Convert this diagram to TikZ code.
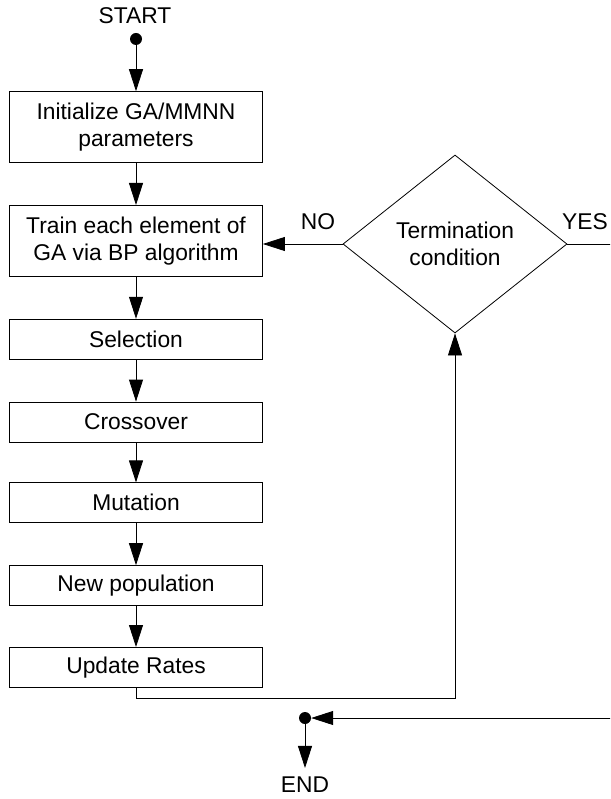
\documentclass[tikz,border=0pt]{standalone}
\usepackage{fontspec}
\setmainfont{Liberation Sans}
\usetikzlibrary{positioning, shapes.geometric, arrows.meta}
\tikzset{
  block/.style={rectangle, draw, line width=0.8pt, minimum width=253pt, minimum height=40pt, align=center, inner sep=3pt},
  decision/.style={diamond, draw, line width=0.8pt, minimum width=224pt, minimum height=178pt, aspect=1.26, inner sep=0pt, align=center},
  terminal/.style={circle, fill, inner sep=0pt, minimum size=12pt},
  arrow/.style={-{Triangle[length=22pt, width=14pt]}, line width=0.8pt},
}

\begin{document}
\begin{tikzpicture}[x=1pt, y=-1pt, font=\fontsize{22.8}{27}\selectfont]
  \clip (0,0) rectangle (610,799);

  % Nodes
  \node[inner sep=0pt] (startlbl) at (135,16) {START};
  \node[terminal] (startdot) at (136,39) {};
  \node[block, minimum height=71pt, below=46pt of startdot] (init) {Initialize GA/MMNN\\parameters};
  \node[block, minimum height=71pt, below=42pt of init] (train) {Train each element of\\GA via BP algorithm};
  \node[block, below=42pt of train] (sel) {Selection};
  \node[block, below=42pt of sel] (cross) {Crossover};
  \node[block, below=40pt of cross] (mut) {Mutation};
  \node[block, below=42pt of mut] (newpop) {New population};
  \node[block, below=41pt of newpop] (upd) {Update Rates};
  \node[decision] (term) at (455,244) {Termination\\condition};
  \node[inner sep=0pt] (nolbl) at (318,222) {NO};
  \node[inner sep=0pt, anchor=east] (yeslbl) at (608,222) {YES};
  \node[terminal] (enddot) at (305,718) {};
  \node[inner xsep=0pt, inner ysep=9pt] (endlbl) at (305,785) {END};

  % Arrows
  \draw[arrow] (startdot) -- (init);
  \draw[arrow] (init) -- (train);
  \draw[arrow] (train) -- (sel);
  \draw[arrow] (sel) -- (cross);
  \draw[arrow] (cross) -- (mut);
  \draw[arrow] (mut) -- (newpop);
  \draw[arrow] (newpop) -- (upd);
  \draw[arrow] (upd.south) -- ++(0,11) -| (term.south);
  \draw[arrow] (term.west) -- (term.west -| train.east);
  \draw[arrow] (term.east) -- ++(60,0) |- (enddot);
  \draw[arrow] (enddot) -- (endlbl);

\end{tikzpicture}
\end{document}
